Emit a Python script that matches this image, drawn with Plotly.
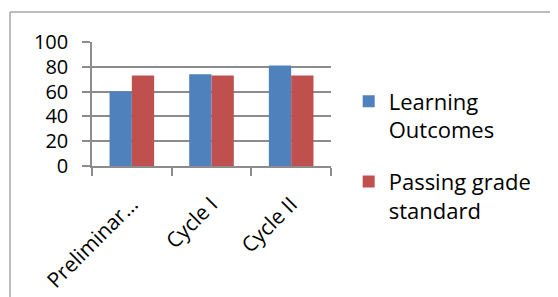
import plotly.graph_objects as go

categories = ["Preliminar…", "Cycle I", "Cycle II"]
learning_outcomes = [60, 74, 81]
passing_grade = [73, 73, 73]
y_ticks = [0, 20, 40, 60, 80, 100]

FONT = "Open Sans"
GRID = "#8c8c8c"

fig = go.Figure()
fig.add_trace(go.Bar(x=categories, y=learning_outcomes, name="Learning<br>Outcomes",
                     marker=dict(color="#4F81BD", line=dict(width=0)), legendgroup="a"))
fig.add_trace(go.Bar(x=categories, y=passing_grade, name="Passing grade<br>standard",
                     marker=dict(color="#C0504D", line=dict(width=0)), legendgroup="b"))

fig.update_layout(
    width=550, height=289,
    margin=dict(l=84, r=227, t=34, b=131, pad=0, autoexpand=False),
    paper_bgcolor="white", plot_bgcolor="white",
    barmode="group", bargap=0.44, bargroupgap=0,
    font=dict(family=FONT, color="black"),
    legend=dict(x=1.074, xanchor="left", y=0.69, yanchor="top",
                font=dict(size=22, family=FONT), valign="top",
                traceorder="grouped", tracegroupgap=20, maxheight=289,
                bgcolor="rgba(0,0,0,0)"),
    xaxis=dict(showline=True, linecolor=GRID, linewidth=1.5, automargin=False,
               ticks="outside", ticklen=8, tickcolor=GRID, tickwidth=1.5,
               tickson="boundaries", tickangle=-45, ticklabelstandoff=16,
               tickfont=dict(size=21, family=FONT), showgrid=False),
    yaxis=dict(range=[0, 100], tickvals=y_ticks, showline=True, linecolor=GRID, linewidth=1.5,
               automargin=False,
               ticks="outside", ticklen=8, tickcolor=GRID, tickwidth=1.5,
               showgrid=True, gridcolor=GRID, gridwidth=1.5, zeroline=False,
               tickfont=dict(size=20, family=FONT), ticklabelstandoff=10),
    shapes=[
        dict(type="line", xref="paper", yref="paper", x0=-0.343, x1=1.95, y0=1.242, y1=1.242,
             line=dict(color="#a6a6a6", width=1.5)),
        dict(type="line", xref="paper", yref="paper", x0=-0.343, x1=-0.343, y0=1.242, y1=-1.2,
             line=dict(color="#a6a6a6", width=1.5)),
    ],
)

fig.write_html("out.html")
